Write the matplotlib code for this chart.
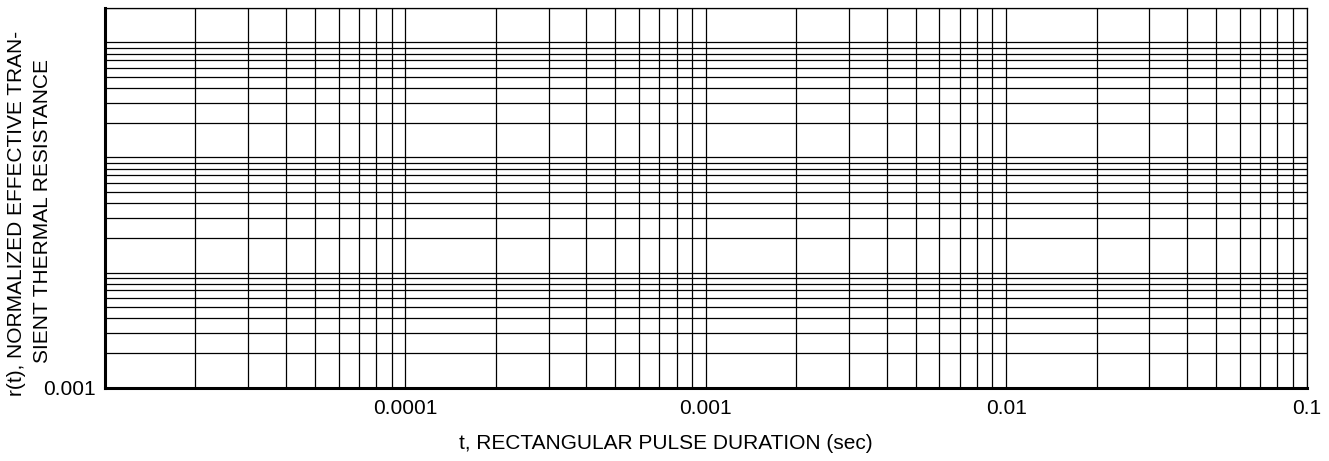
import matplotlib.pyplot as plt
from matplotlib.ticker import LogLocator, NullFormatter, FixedLocator, FixedFormatter

plt.rcParams['font.family'] = ['Liberation Sans', 'DejaVu Sans']

# axis ranges and tick labels
x_lim = [1e-5, 0.1]
y_lim = [0.001, 2]
x_ticks = [1e-4, 1e-3, 1e-2, 1e-1]
x_labels = ['0.0001', '0.001', '0.01', '0.1']
y_ticks = [0.001]
y_labels = ['0.001']
y_title = ['r(t), NORMALIZED EFFECTIVE TRAN-', 'SIENT THERMAL RESISTANCE']

fig = plt.figure(figsize=(13.29, 4.61), dpi=100)
ax = fig.add_axes([105 / 1329, (461 - 387.7) / 461, (1306.5 - 105) / 1329, (387.7 - 7.7) / 461])

ax.set_xscale('log')
ax.set_yscale('log')
ax.set_xlim(x_lim)
ax.set_ylim(y_lim)

ax.xaxis.set_major_locator(FixedLocator(x_ticks))
ax.xaxis.set_major_formatter(FixedFormatter(x_labels))
ax.yaxis.set_major_locator(FixedLocator(y_ticks))
ax.yaxis.set_major_formatter(FixedFormatter(y_labels))
ax.xaxis.set_minor_locator(LogLocator(base=10, subs=range(1, 10), numticks=20))
ax.yaxis.set_minor_locator(LogLocator(base=10, subs=range(1, 10), numticks=20))
ax.xaxis.set_minor_formatter(NullFormatter())
ax.yaxis.set_minor_formatter(NullFormatter())

ax.grid(which='both', color='black', lw=0.9)
ax.tick_params(which='both', length=0, labelsize=15)
ax.tick_params(axis='x', pad=8)
ax.tick_params(axis='y', pad=7)

for s in ['left', 'bottom']:
    ax.spines[s].set_linewidth(2.2)
for s in ['top', 'right']:
    ax.spines[s].set_linewidth(0.9)

# two-line y title, each line placed on its own
fig.text(17 / 1329, (461 - 213) / 461, y_title[0],
         rotation=90, ha='center', va='center', fontsize=15)
fig.text(43 / 1329, (461 - 211) / 461, y_title[1],
         rotation=90, ha='center', va='center', fontsize=15)
fig.text(666 / 1329, (461 - 443) / 461, 't, RECTANGULAR PULSE DURATION (sec)',
         ha='center', va='center', fontsize=15)

fig.savefig('out.png', dpi=100)
